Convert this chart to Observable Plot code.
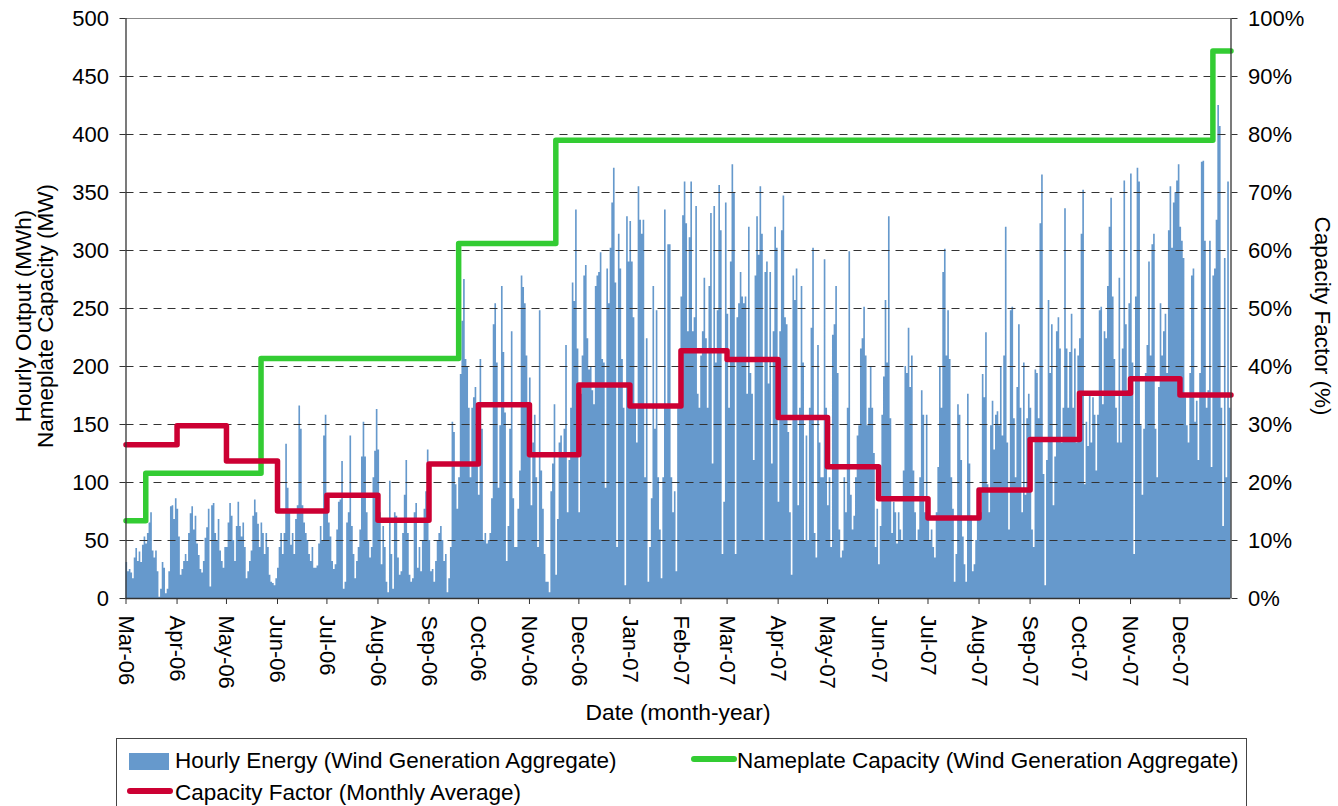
<!DOCTYPE html>
<html>
<head>
<meta charset="utf-8">
<script src="https://cdn.jsdelivr.net/npm/d3@7"></script>
<script src="https://cdn.jsdelivr.net/npm/@observablehq/plot@0.6"></script>
<style>
  html, body { margin: 0; padding: 0; background: #fff; }
  #wrap { position: relative; width: 1338px; height: 806px; overflow: hidden; font-family: "Liberation Sans", Arial, sans-serif; }
  #chart { position: absolute; left: 0; top: 0; }
  #legend { position: absolute; left: 116px; top: 738px; width: 1131px; height: 90px; border: 1px solid #444; box-sizing: border-box; }
  .lg-text { position: absolute; font-size: 22.5px; line-height: 24px; color: #000; white-space: nowrap; }
  .lg-swatch { position: absolute; }
</style>
</head>
<body>
<div id="wrap">
  <div id="chart"></div>
  <div id="legend"></div>
</div>
<script>
// ---------------- DATA ----------------
// Daily envelope of hourly wind output (MWh), Mar 1 2006 .. Dec 31 2006
const energy2006 = [
  31,23,25,22,17,35,43,32,40,31, 46,53,47,56,65,74,41,35,41,23,
  1,8,31,26,4,8,23,79,80,68, 86,77,53,20,25,32,38,32,56,73,
  79,59,71,47,37,25,22,32,52,61, 77,10,80,82,56,50,68,41,32,26,
  44,44,65,82,71,50,32,62,83,62, 53,65,44,17,23,32,41,71,85,74,
  64,44,65,56,38,56,44,20,14,13, 11,17,26,44,56,38,56,133,95,74,
  46,56,38,68,80,166,146,80,65,56, 50,38,32,44,26,26,28,47,62,50,
  140,158,77,65,53,32,25,29,59,83, 85,118,8,14,65,74,140,62,38,17,
  32,44,59,122,152,122,74,50,35,44, 104,127,163,128,74,29,62,44,14,5,
  101,38,8,74,71,35,20,23,56,89, 119,56,20,14,17,74,82,26,44,23,
  50,77,92,128,50,23,25,14,32,50, 56,62,50,32,38,5,17,44,152,143,
  98,77,104,193,239,275,206,200,164,104, 164,173,182,134,89,206,146,50,56,47,
  50,56,86,236,254,203,95,149,269,212, 160,32,62,146,230,86,44,44,77,110,
  278,268,254,209,122,190,80,134,158,104, 44,248,110,77,38,14,14,5,92,116,
  167,20,68,134,140,122,146,218,74,119, 164,272,256,335,215,74,176,209,278,287,
  224,197,200,179,167,269,278,281,298,206, 203,95,284,254,302,341,371,272,44,314,
  284,206,164,11,329,290
];
// Daily envelope of hourly wind output (MWh), Jan 1 2007 .. Dec 31 2007
const energy2007 = [
  325,290,242,164,
  134,355,326,314,326,104,224,14,44,86, 269,146,248,104,59,17,104,335,164,305,
  305,104,74,92,23,164,167,260,330,359, 323,230,311,359,230,242,338,176,164,209,
  230,276,224,164,269,332,116,338,203,248, 356,317,38,83,341,245,164,290,374,350,
  38,242,254,281,260,254,260,176,320,194, 176,119,278,329,296,355,314,50,281,290,
  185,281,116,230,320,302,83,230,317,347, 242,236,143,74,20,278,257,284,80,164,
  269,203,50,140,50,164,233,302,56,35, 218,134,104,104,292,164,80,104,44,227,
  236,269,194,59,35,41,104,74,164,299, 89,59,71,104,140,149,215,224,251,209,
  149,164,200,164,125,44,77,29,62,158, 191,257,203,329,155,56,83,74,47,74,
  59,50,110,200,194,233,182,209,110,74, 50,59,104,179,158,74,158,80,50,59,
  44,35,74,113,200,164,281,301,209,248, 206,104,77,14,38,167,158,119,53,29,
  14,176,116,71,23,29,50,95,71,74, 193,173,229,98,74,149,170,128,158,161,
  149,200,140,209,320,134,59,248,251,155, 104,182,236,164,74,203,89,155,176,164,
  59,44,197,194,155,323,365,107,11,119, 257,194,236,80,122,230,242,215,134,164,
  336,215,164,212,245,164,215,134,209,224, 314,352,98,152,131,176,134,173,158,110,
  158,248,251,167,230,224,269,320,345,260, 206,164,134,276,134,215,360,236,179,254,
  366,203,38,260,371,359,149,89,146,194, 218,290,209,305,314,146,104,182,254,209,
  230,245,194,317,355,302,341,350,360,374, 320,308,293,173,149,134,194,278,284,152,
  170,119,194,376,377,308,164,179,308,113, 278,284,326,425,407,164,62,293,104,359,
  164
];

// Nameplate capacity (MW): change dates and values
const capacityDates = ["2006-03-01", "2006-03-13", "2006-05-22", "2006-09-19", "2006-11-17", "2007-12-21", "2008-01-01"];
const capacityMW    = [67, 108, 207, 306, 395, 472, 472];

// Monthly average capacity factor (%)
const monthLabels = ["Mar-06","Apr-06","May-06","Jun-06","Jul-06","Aug-06","Sep-06","Oct-06","Nov-06","Dec-06",
                     "Jan-07","Feb-07","Mar-07","Apr-07","May-07","Jun-07","Jul-07","Aug-07","Sep-07","Oct-07","Nov-07","Dec-07"];
const capacityFactorPct = [26.5, 29.8, 23.7, 15.1, 17.8, 13.5, 23.2, 33.4, 24.8, 36.8,
                           33.2, 42.7, 41.2, 31.2, 22.7, 17.2, 13.9, 18.7, 27.4, 35.4, 37.9, 35.1];

// Axis ticks
const leftTicks = [0, 50, 100, 150, 200, 250, 300, 350, 400, 450, 500];
const gridTicks = [50, 100, 150, 200, 250, 300, 350, 400, 450];
const rightTicksPct = [0, 10, 20, 30, 40, 50, 60, 70, 80, 90, 100];

// Titles
const leftTitleLines = ["Hourly Output (MWh)", "Nameplate Capacity (MW)"];
const rightTitle = "Capacity Factor (%)";
const xTitle = "Date (month-year)";

// ---------------- BUILD ----------------
const parseMonth = d3.utcParse("%b-%y");
const fmtMonth = d3.utcFormat("%b-%y");
const startDate = new Date(Date.UTC(2006, 2, 1));
const endDate = new Date(Date.UTC(2008, 0, 1));

const energyValues = energy2006.concat(energy2007);
const energy = energyValues.map((v, i) => ({ date: new Date(Date.UTC(2006, 2, 1 + i)), value: v }));
energy.push({ date: endDate, value: energyValues[energyValues.length - 1] });

const capacity = capacityDates.map((d, i) => ({ date: new Date(d + "T00:00:00Z"), mw: capacityMW[i] }));

const monthDates = monthLabels.map(parseMonth);
const cf = monthDates.map((d, i) => ({ date: d, pct: capacityFactorPct[i] }));
cf.push({ date: endDate, pct: capacityFactorPct[capacityFactorPct.length - 1] });

// left scale: 0..500 MW ; right scale: 0..100 % (100 % = 500 on the left scale)
const pctToLeft = 5;

const chart = Plot.plot({
  width: 1338,
  height: 735,
  marginLeft: 125.5,
  marginRight: 107.5,
  marginTop: 18,
  marginBottom: 137,
  style: { fontFamily: "'Liberation Sans', Arial, sans-serif", fontSize: "22px", color: "#000", background: "#fff", overflow: "visible" },
  x: { type: "utc", domain: [startDate, endDate] },
  y: { domain: [0, 500] },
  marks: [
    Plot.areaY(energy, { x: "date", y: "value", curve: "step-after", fill: "#6699CC" }),
    Plot.ruleY(gridTicks, { stroke: "#333", strokeWidth: 1, strokeDasharray: "8,6" }),
    Plot.ruleY([500], { stroke: "#888", strokeWidth: 1.2 }),
    Plot.line(capacity, { x: "date", y: "mw", curve: "step-after", stroke: "#33CC33", strokeWidth: 5.5, strokeLinejoin: "round" }),
    Plot.line(cf, { x: "date", y: d => d.pct * pctToLeft, curve: "step-after", stroke: "#CC0033", strokeWidth: 5.5, strokeLinejoin: "round" }),
    Plot.ruleX([startDate], { stroke: "#333", strokeWidth: 1.3 }),
    Plot.ruleX([endDate], { stroke: "#333", strokeWidth: 1.3 }),
    Plot.ruleY([0], { stroke: "#333", strokeWidth: 1.3 }),
    Plot.axisY({ anchor: "left", ticks: leftTicks, tickSize: 6, tickPadding: 11, label: null, stroke: "#333" }),
    Plot.axisY({ anchor: "right", ticks: rightTicksPct.map(p => p * pctToLeft), tickFormat: d => `${d / pctToLeft}%`, tickSize: 6, tickPadding: 11, label: null, stroke: "#333" }),
    Plot.axisX({ anchor: "bottom", ticks: monthDates, tickFormat: fmtMonth, tickRotate: 90, tickSize: 6, tickPadding: 11, label: null, stroke: "#333" })
  ]
});
document.getElementById("chart").appendChild(chart);

// Axis titles as SVG text in the plot's own SVG
const svg = d3.select(chart);
const titleFont = "'Liberation Sans', Arial, sans-serif";
leftTitleLines.forEach((t, i) => {
  svg.append("text")
    .attr("transform", `translate(${23 + i * 22.5},316) rotate(-90)`)
    .attr("text-anchor", "middle")
    .attr("dy", "0.35em")
    .attr("font-family", titleFont)
    .attr("font-size", 22.5)
    .attr("fill", "#000")
    .text(t);
});
svg.append("text")
  .attr("transform", "translate(1323,316) rotate(90)")
  .attr("text-anchor", "middle")
  .attr("dy", "0.35em")
  .attr("font-family", titleFont)
  .attr("font-size", 22.5)
  .attr("fill", "#000")
  .text(rightTitle);
svg.append("text")
  .attr("x", 678)
  .attr("y", 720)
  .attr("text-anchor", "middle")
  .attr("font-family", titleFont)
  .attr("font-size", 22.8)
  .attr("fill", "#000")
  .text(xTitle);

// ---------------- LEGEND (HTML, below the SVG) ----------------
const legendItems = [
  { label: "Hourly Energy (Wind Generation Aggregate)", kind: "rect", color: "#6699CC", sx: 12, sy: 14, tx: 58, ty: 10 },
  { label: "Nameplate Capacity (Wind Generation Aggregate)", kind: "line", color: "#33CC33", sx: 574, sy: 17, tx: 620, ty: 10 },
  { label: "Capacity Factor (Monthly Average)", kind: "line", color: "#CC0033", sx: 10, sy: 49, tx: 58, ty: 42 }
];
const legend = document.getElementById("legend");
for (const it of legendItems) {
  const sw = document.createElement("div");
  sw.className = "lg-swatch";
  if (it.kind === "rect") {
    Object.assign(sw.style, { left: it.sx + "px", top: it.sy + "px", width: "40px", height: "17px", background: it.color });
  } else {
    Object.assign(sw.style, { left: it.sx + "px", top: it.sy + "px", width: "46px", height: "5.5px", background: it.color, borderRadius: "3px" });
  }
  legend.appendChild(sw);
  const tx = document.createElement("div");
  tx.className = "lg-text";
  tx.textContent = it.label;
  Object.assign(tx.style, { left: it.tx + "px", top: it.ty + "px" });
  legend.appendChild(tx);
}
</script>
</body>
</html>
